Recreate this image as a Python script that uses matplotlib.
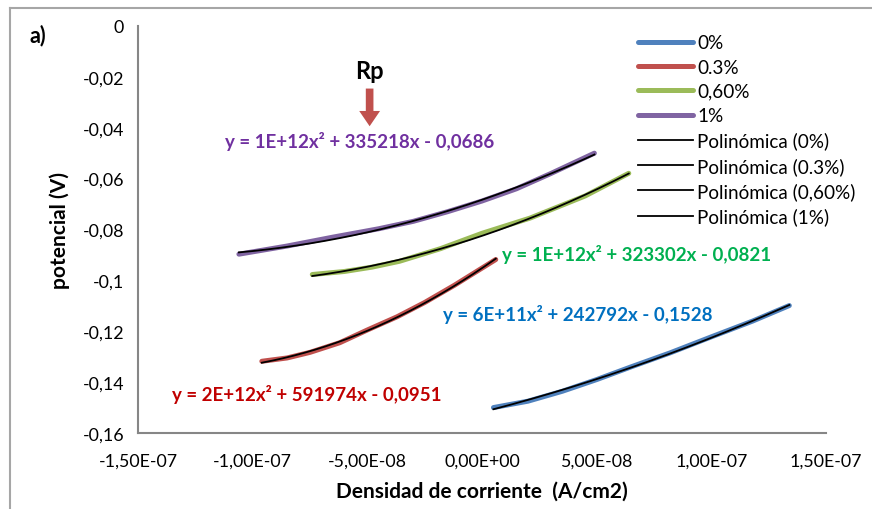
import numpy as np
import matplotlib
matplotlib.use("Agg")
import matplotlib.pyplot as plt
from matplotlib.lines import Line2D

plt.rcParams["font.family"] = ["Lato", "DejaVu Sans"]

# Polarization curves (current density A/cm2, potential V)
x_0 = [5e-9, 2e-8, 3.5e-8, 5e-8, 6.5e-8, 8.2e-8, 1e-7, 1.18e-7, 1.34e-7]
y_0 = [-0.1500, -0.1475, -0.1436, -0.1390, -0.1340, -0.1285, -0.1222, -0.1160, -0.1099]

x_03 = [-9.6e-8, -8.5e-8, -7.5e-8, -6.2e-8, -5e-8, -3.7e-8, -2.5e-8, -1.2e-8, 6e-9]
y_03 = [-0.1318, -0.1305, -0.1283, -0.1245, -0.1195, -0.1143, -0.1087, -0.1019, -0.0918]

x_06 = [-7.4e-8, -6e-8, -4.8e-8, -3.6e-8, -1.8e-8, 0, 2.1e-8, 4.5e-8, 6.4e-8]
y_06 = [-0.0977, -0.0965, -0.0948, -0.0925, -0.0875, -0.0815, -0.0755, -0.0668, -0.0579]

x_1 = [-1.06e-7, -8.5e-8, -6.5e-8, -4.5e-8, -3e-8, -1.5e-8, 0, 1.5e-8, 3e-8, 4.9e-8]
y_1 = [-0.0897, -0.0865, -0.0830, -0.0797, -0.0768, -0.0730, -0.0688, -0.0640, -0.0580, -0.0500]

labels = ["0%", "0.3%", "0,60%", "1%"]
colors = ["#4F81BD", "#C0504D", "#9BBB59", "#8064A2"]
eq_colors = ["#0070C0", "#C00000", "#00B050", "#7030A0"]
equations = [
    "y = 6E+11x² + 242792x - 0,1528",
    "y = 2E+12x² + 591974x - 0,0951",
    "y = 1E+12x² + 323302x - 0,0821",
    "y = 1E+12x² + 335218x - 0,0686",
]
# equation label positions (data coords, left edge / centre)
eq_pos = [(-1.7e-8, -0.1131), (-1.352e-7, -0.1446), (8.7e-9, -0.0895), (-1.121e-7, -0.0449)]

xticks = [-1.5e-7, -1.0e-7, -5.0e-8, 0.0, 5.0e-8, 1.0e-7, 1.5e-7]
xtick_labels = ["-1,50E-07", "-1,00E-07", "-5,00E-08", "0,00E+00", "5,00E-08", "1,00E-07", "1,50E-07"]
yticks = [0, -0.02, -0.04, -0.06, -0.08, -0.1, -0.12, -0.14, -0.16]
ytick_labels = ["0", "-0,02", "-0,04", "-0,06", "-0,08", "-0,1", "-0,12", "-0,14", "-0,16"]

fig = plt.figure(figsize=(8.72, 5.10), dpi=100)
ax = fig.add_axes([138 / 872, 76 / 510, 688 / 872, 407 / 510])

series = [(x_0, y_0), (x_03, y_03), (x_06, y_06), (x_1, y_1)]
for (xs, ys), c in zip(series, colors):
    ax.plot(xs, ys, color=c, lw=3.6, solid_capstyle="round", zorder=2)

# second order polynomial trendlines
for xs, ys in series:
    coef = np.polyfit(xs, ys, 2)
    xf = np.linspace(min(xs), max(xs), 200)
    ax.plot(xf, np.polyval(coef, xf), color="black", lw=1.3, zorder=3)

for eq, c, (ex, ey) in zip(equations, eq_colors, eq_pos):
    ax.text(ex, ey, eq, color=c, fontsize=13.5, fontweight="bold", va="center", ha="left")

ax.set_xlim(-1.5e-7, 1.5e-7)
ax.set_ylim(-0.16, 0)
ax.set_xticks(xticks)
ax.set_xticklabels(xtick_labels)
ax.set_yticks(yticks)
ax.set_yticklabels(ytick_labels)
ax.tick_params(length=0, labelsize=12.8, colors="black", pad=10)
ax.tick_params(axis="x", pad=14)
for s in ["top", "right"]:
    ax.spines[s].set_visible(False)
for s in ["left", "bottom"]:
    ax.spines[s].set_color("#868686")
    ax.spines[s].set_linewidth(1.5)

ax.set_xlabel("Densidad de corriente  (A/cm2)", fontsize=15, fontweight="bold", labelpad=9)
ax.set_ylabel("potencial (V)", fontsize=15, fontweight="bold", labelpad=9)

# legend
handles = [Line2D([], [], color=c, lw=3.6, solid_capstyle="round") for c in colors]
handles += [Line2D([], [], color="black", lw=1.3) for _ in labels]
leg_labels = labels + ["Polinómica (%s)" % l for l in labels]
ax.legend(handles, leg_labels, loc="upper left", bbox_to_anchor=(0.727, 0.98),
          frameon=False, fontsize=13.6, handlelength=2.9, handletextpad=0.22,
          labelspacing=0.39, borderaxespad=0, borderpad=0)

# annotation arrow
ax.annotate("", xy=(-4.9e-8, -0.0405), xytext=(-4.9e-8, -0.0235),
            arrowprops=dict(arrowstyle="simple,head_length=1.1,head_width=1.5,tail_width=0.55",
                            color="#C0504D", lw=0))
ax.text(-4.9e-8, -0.0175, "Rp", fontsize=17, fontweight="bold", ha="center", va="center")

fig.text(38 / 872, 1 - 36 / 510, "a)", fontsize=15.5, fontweight="bold", ha="center", va="center")

# outer chart frame
fig.add_artist(Line2D([10 / 872, 10 / 872], [0, 1 - 9 / 510], transform=fig.transFigure,
                      color="#A6A6A6", lw=1.5))
fig.add_artist(Line2D([10 / 872, 1], [1 - 9 / 510, 1 - 9 / 510], transform=fig.transFigure,
                      color="#A6A6A6", lw=1.5))

fig.savefig("out.png", dpi=100)
